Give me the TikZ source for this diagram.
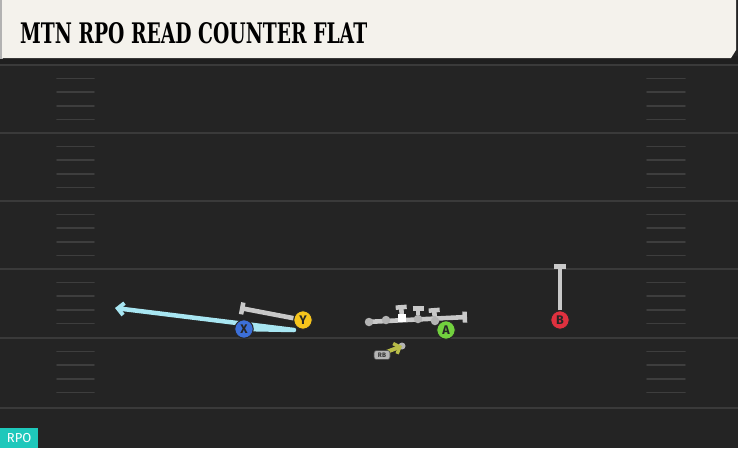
\documentclass[tikz,border=0pt]{standalone}
\usepackage{fontspec}
\usetikzlibrary{arrows.meta}
\newfontfamily\titlefont{DejaVu Serif}
\newfontfamily\lblfont{Fira Sans}
\definecolor{fieldbg}{HTML}{242424}
\definecolor{yardline}{HTML}{3A3A3A}
\definecolor{hashc}{HTML}{3E3E3E}
\definecolor{headbg}{HTML}{F4F2EC}
\definecolor{routeblue}{HTML}{A8E6F2}
\definecolor{blockgray}{HTML}{C9C9C9}
\definecolor{dotgray}{HTML}{B4B4B4}
\definecolor{pblue}{HTML}{3C6FD8}
\definecolor{pyellow}{HTML}{F6C41C}
\definecolor{pgreen}{HTML}{72D13E}
\definecolor{pred}{HTML}{E0313F}
\definecolor{rpoteal}{HTML}{1EC8BB}
\definecolor{rbolive}{HTML}{B9BD48}
\tikzset{
  player/.style={circle, minimum size=18.5pt, inner sep=0pt, draw=black!85, line width=1pt,
    text=black!85, font=\lblfont\bfseries\fontsize{12.5}{12.5}\selectfont},
  yardln/.style={draw=yardline, line width=2pt},
  hashln/.style={draw=hashc, line width=1.6pt, line cap=round},
  blockln/.style={draw=blockgray, line width=4.6pt, -{Bar[width=12pt,line width=4.5pt]}},
  routeln/.style={draw=routeblue, line width=4.5pt, line join=round, -{Straight Barb[length=6pt,width=12pt,line width=4pt]}},
  oldot/.style={circle, fill=dotgray, inner sep=0pt, minimum size=8.5pt},
}
\begin{document}
\begin{tikzpicture}[x=1pt,y=-1pt]
\useasboundingbox (0,0) rectangle (738,448);
% field
\fill[fieldbg] (0,0) rectangle (738,448);
\fill[black!88] (0,56) rectangle (738,64);
% yard lines
\foreach \y in {133,201,269,338,408} {\draw[yardln] (0,\y) -- (738,\y);}
\draw[draw=yardline, line width=1.5pt] (0,65) -- (738,65);
% hash marks
\foreach \b in {65,133,201,269,338} {
  \foreach \k in {1,2,3,4} {
    \draw[hashln] (57,{\b+13.6*\k}) -- (94,{\b+13.6*\k});
    \draw[hashln] (647,{\b+13.6*\k}) -- (685,{\b+13.6*\k});
  }
}
% header
\fill[gray!60] (0,0) rectangle (3,59);
\fill[headbg] (2,0) -- (736,0) -- (736,50) -- (731,58) -- (2,58) -- cycle;
\node[anchor=base west, inner sep=0pt] (title) at (20,43)
  {\resizebox{347pt}{21pt}{\titlefont\bfseries MTN RPO READ COUNTER FLAT}};
% route coordinates
\coordinate (Xc) at (244,329);
\coordinate (xturn) at (294,330);
\coordinate (xend) at (115,308);
\coordinate (yend) at (240,308);
\coordinate (bend) at (560,264);
\coordinate (al) at (366,322);
\coordinate (ar) at (467,317);
% X route
\draw[routeln] (Xc) -- (xturn) -- (xend);
% players
\node[player, fill=pblue] (X) at (Xc) {X};
\node[player, fill=pyellow] (Y) at (303,320) {Y};
\node[player, fill=pred] (B) at (560,320) {B};
% Y block
\draw[blockln] (Y) -- (yend);
% B block
\draw[blockln] (B) -- (bend);
% A / OL block
\draw[blockln, -{Bar[width=11pt,line width=4.5pt]}] (al) -- (ar);
\node[oldot] (ol1) at (369,322) {};
\node[oldot] (ol2) at (386,320) {};
\node[oldot] (ol4) at (418,319) {};
\node[oldot] (ol5) at (435,321) {};
\coordinate (t1) at (401,305);
\coordinate (t2) at (418,306);
\coordinate (t3) at (434,308);
\coordinate (c3) at (402,318);
\draw[blockln, -{Bar[width=11pt,line width=4.5pt]}] (c3) -- (t1);
\draw[blockln, -{Bar[width=11pt,line width=4.5pt]}] (ol4) -- (t2);
\draw[blockln, -{Bar[width=11pt,line width=4.5pt]}] (ol5) -- (t3);
\node[fill=white, minimum size=8.5pt, inner sep=0pt] (ctr) at (c3) {};
\node[player, fill=pgreen] (A) at (446,330) {A};
% RB
\node[oldot, minimum size=7pt] (rbdot) at (402,346) {};
\coordinate (rbstart) at (384,353);
\draw[draw=rbolive, line width=4pt, -{Straight Barb[length=5pt,width=11pt,line width=3.5pt]}] (rbstart) -- (rbdot.center);
\node[fill=dotgray, draw=black!70, line width=0.6pt, rounded corners=2.5pt, inner sep=1pt,
  minimum width=16pt, minimum height=9pt, font=\lblfont\bfseries\fontsize{6.5}{6.5}\selectfont, text=black!80] (RB) at (382,355) {RB};
% RPO tag
\node[fill=rpoteal, anchor=south west, minimum width=38pt, minimum height=20pt, inner sep=0pt,
  text=white, font=\lblfont\fontsize{13}{13}\selectfont] (rpo) at (0,448) {RPO};
\end{tikzpicture}
\end{document}
